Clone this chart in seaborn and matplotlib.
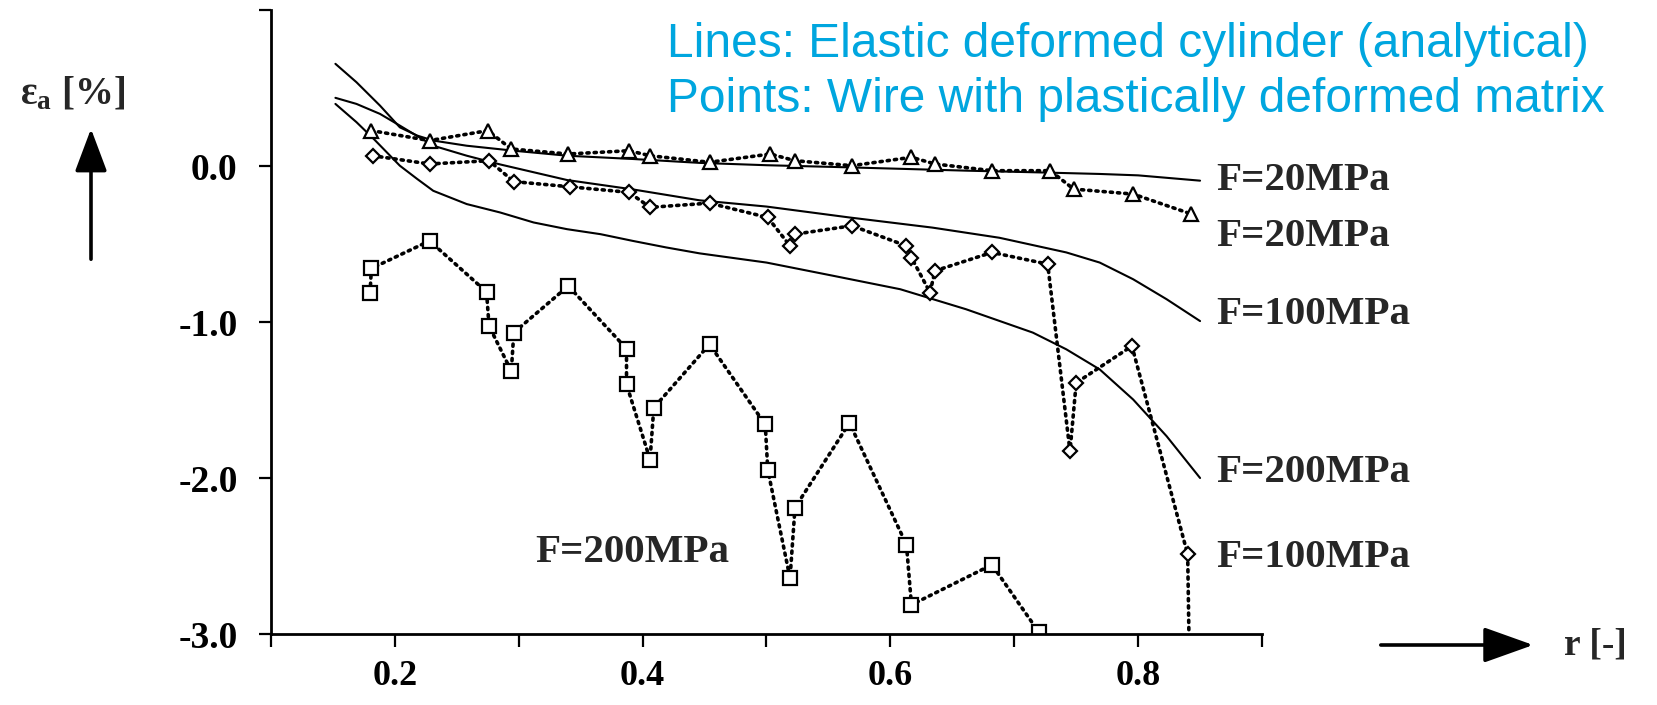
import matplotlib
matplotlib.use("Agg")
import matplotlib.pyplot as plt
import seaborn as sns

# ---------------- data ----------------
# analytical lines (elastic deformed cylinder)
line20_r = [0.152, 0.169, 0.188, 0.204, 0.218, 0.231, 0.258, 0.296, 0.339, 0.392,
            0.446, 0.500, 0.554, 0.608, 0.662, 0.715, 0.769, 0.800, 0.850]
line20_y = [0.655, 0.537, 0.387, 0.248, 0.195, 0.163, 0.130, 0.098, 0.066, 0.045,
            0.020, 0.005, -0.006, -0.018, -0.030, -0.040, -0.051, -0.060, -0.094]

line100_r = [0.152, 0.169, 0.188, 0.204, 0.231, 0.258, 0.285, 0.312, 0.339, 0.392,
             0.446, 0.500, 0.567, 0.634, 0.688, 0.742, 0.769, 0.796, 0.823, 0.850]
line100_y = [0.437, 0.398, 0.334, 0.259, 0.130, 0.066, 0.010, -0.040, -0.090, -0.150,
             -0.220, -0.260, -0.330, -0.395, -0.460, -0.554, -0.619, -0.726, -0.854, -0.994]

line200_r = [0.152, 0.169, 0.183, 0.204, 0.218, 0.231, 0.258, 0.285, 0.312, 0.339,
             0.366, 0.392, 0.419, 0.446, 0.500, 0.554, 0.608, 0.661, 0.715, 0.742,
             0.769, 0.796, 0.823, 0.850]
line200_y = [0.398, 0.281, 0.173, 0.002, -0.083, -0.159, -0.244, -0.298, -0.362, -0.405,
             -0.437, -0.480, -0.522, -0.560, -0.619, -0.704, -0.790, -0.918, -1.068, -1.175,
             -1.304, -1.497, -1.732, -2.000]

# points (wire with plastically deformed matrix), in drawing order
tri_r = [0.181, 0.228, 0.275, 0.294, 0.340, 0.389, 0.406, 0.454, 0.503, 0.523,
         0.569, 0.617, 0.636, 0.682, 0.729, 0.748, 0.796, 0.843]
tri_y = [0.227, 0.163, 0.227, 0.109, 0.077, 0.098, 0.066, 0.024, 0.077, 0.034,
         0.002, 0.056, 0.013, -0.030, -0.030, -0.148, -0.180, -0.308]

dia_r = [0.182, 0.228, 0.276, 0.296, 0.341, 0.389, 0.406, 0.454, 0.501, 0.519,
         0.523, 0.569, 0.613, 0.617, 0.632, 0.636, 0.682, 0.727, 0.745, 0.750,
         0.795, 0.840, 0.841]
dia_y = [0.066, 0.013, 0.034, -0.100, -0.133, -0.169, -0.265, -0.238, -0.330, -0.512,
         -0.437, -0.383, -0.512, -0.587, -0.811, -0.672, -0.554, -0.629, -1.829, -1.390,
         -1.154, -2.490, -3.000]

sq_r = [0.180, 0.181, 0.228, 0.274, 0.276, 0.294, 0.296, 0.340, 0.387, 0.387,
        0.406, 0.409, 0.454, 0.499, 0.501, 0.519, 0.523, 0.567, 0.613, 0.617,
        0.682, 0.720]
sq_y = [-0.811, -0.657, -0.480, -0.807, -1.025, -1.315, -1.068, -0.769, -1.171, -1.400,
        -1.882, -1.550, -1.143, -1.657, -1.946, -2.642, -2.190, -1.647, -2.428, -2.813,
        -2.556, -2.990]

x_ticks = [0.1, 0.2, 0.3, 0.4, 0.5, 0.6, 0.7, 0.8, 0.9]
x_tick_labels = ["", "0.2", "", "0.4", "", "0.6", "", "0.8", ""]
y_ticks = [1.0, 0.0, -1.0, -2.0, -3.0]
y_tick_labels = ["", "0.0", "-1.0", "-2.0", "-3.0"]

right_labels = ["F=20MPa", "F=20MPa", "F=100MPa", "F=200MPa", "F=100MPa"]
right_label_y = [-0.096, -0.45, -0.95, -1.965, -2.51]
inner_label = "F=200MPa"

note_lines = ["Lines: Elastic deformed cylinder (analytical)",
              "Points: Wire with plastically deformed matrix"]

# ---------------- style ----------------
sns.set_style("ticks")
plt.rcParams["font.family"] = ["Liberation Serif", "DejaVu Serif"]
plt.rcParams["mathtext.fontset"] = "custom"
plt.rcParams["mathtext.rm"] = "Liberation Serif"
plt.rcParams["mathtext.it"] = "Liberation Serif:italic"
plt.rcParams["mathtext.bf"] = "Liberation Serif:bold"

W, H = 1658, 705
fig = plt.figure(figsize=(W / 100, H / 100), dpi=100)
ax = fig.add_axes([271 / W, 1 - 634 / H, 991 / W, 624 / H])

lw_line = 1.5
for r, y in [(line20_r, line20_y), (line100_r, line100_y), (line200_r, line200_y)]:
    sns.lineplot(x=r, y=y, ax=ax, color="black", lw=lw_line, sort=False,
                 estimator=None, legend=False)

pt_style = dict(color="black", lw=2.6, linestyle=(0, (0.6, 1.4)),
                sort=False, estimator=None, legend=False,
                markerfacecolor="white", markeredgecolor="black",
                markeredgewidth=1.6, dash_capstyle="round")

sns.lineplot(x=tri_r, y=tri_y, ax=ax, marker="^", markersize=10.5, **pt_style)
sns.lineplot(x=dia_r, y=dia_y, ax=ax, marker="D", markersize=7.5,
             markevery=list(range(len(dia_r) - 1)), **pt_style)
sns.lineplot(x=sq_r, y=sq_y, ax=ax, marker="s", markersize=10.5, **pt_style)

ax.set_xlim(0.1, 0.9)
ax.set_ylim(-3.0, 1.0)
ax.set_xticks(x_ticks)
ax.set_xticklabels(x_tick_labels)
ax.set_yticks(y_ticks)
ax.set_yticklabels(y_tick_labels)
ax.set_xlabel("")
ax.set_ylabel("")
sns.despine(ax=ax)
for s in ["left", "bottom"]:
    ax.spines[s].set_linewidth(2.0)
    ax.spines[s].set_color("black")
ax.tick_params(axis="both", direction="out", length=9, width=1.6,
               colors="black", labelsize=27)
ax.tick_params(axis="x", pad=10, labelsize=26)
ax.tick_params(axis="y", pad=15)
for lab in ax.get_xticklabels() + ax.get_yticklabels():
    lab.set_fontweight("bold")

for txt, yv in zip(right_labels, right_label_y):
    ax.text(0.863, yv, txt, ha="left", va="center", fontsize=29.5,
            fontweight="bold", clip_on=False)
ax.text(0.313, -2.479, inner_label, ha="left", va="center", fontsize=29.5,
        fontweight="bold")

# blue annotation
for i, t in enumerate(note_lines):
    fig.text(667 / W, 1 - (57 + 55 * i) / H, t, ha="left", va="baseline",
             fontsize=34.5, color="#00A6DF",
             family=["Liberation Sans", "DejaVu Sans"])

# axis labels with arrows
fig.text(20 / W, 1 - 95 / H, r"$\mathbf{ε_a}$ [%]", ha="left", va="center",
         fontsize=28, fontweight="bold")
ax.annotate("", xy=(91, H - 126), xytext=(91, H - 262), xycoords="figure pixels",
            textcoords="figure pixels", annotation_clip=False,
            arrowprops=dict(arrowstyle="-|>,head_length=1.2,head_width=0.45",
                            lw=2.6, color="black", mutation_scale=22))
ax.annotate("", xy=(1536, H - 645), xytext=(1378, H - 645), xycoords="figure pixels",
            textcoords="figure pixels", annotation_clip=False,
            arrowprops=dict(arrowstyle="-|>,head_length=1.4,head_width=0.5",
                            lw=2.6, color="black", mutation_scale=22))
fig.text(1564 / W, 1 - 645 / H, "r [-]", ha="left", va="center", fontsize=27,
         fontweight="bold")

fig.savefig("out.png", dpi=100)
